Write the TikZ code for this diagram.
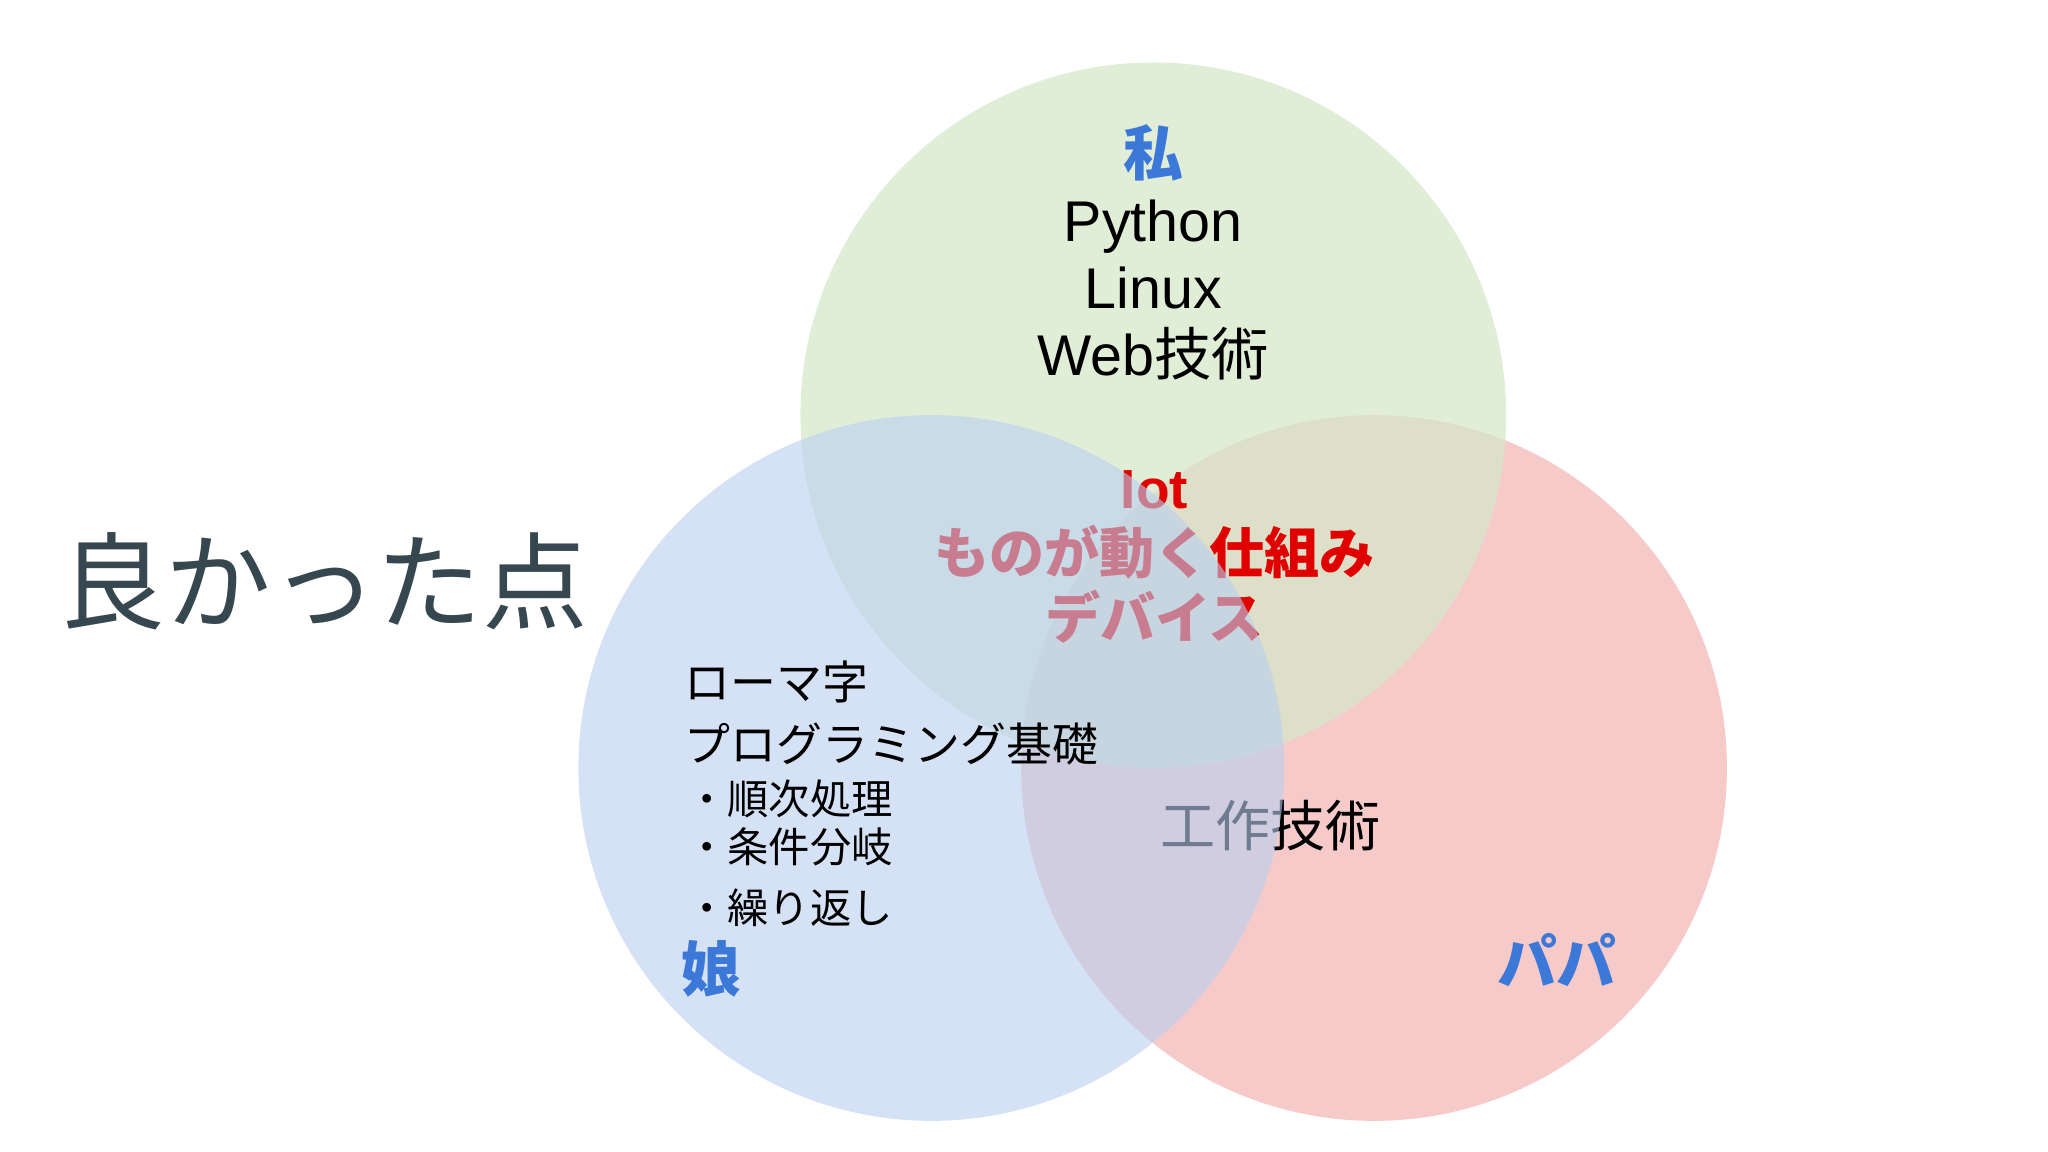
\documentclass[tikz,border=0pt]{standalone}
\usepackage{fontspec}
\newfontfamily\jp{Noto Sans CJK JP}
\setmainfont{Liberation Sans}
\definecolor{mygreen}{HTML}{D3E8C8}
\definecolor{myblue}{HTML}{B9CFF0}
\definecolor{myred}{HTML}{F5BDBD}
\definecolor{labelblue}{HTML}{3C78D8}
\definecolor{titlegrey}{HTML}{37474F}
\definecolor{iotred}{HTML}{E00000}
\begin{document}
\begin{tikzpicture}[x=0.01cm,y=-0.01cm,
  setstyle/.style={circle, minimum size=5.4cm, inner sep=0pt},
  owner/.style={labelblue, font=\jp\bfseries\fontsize{13}{15}\selectfont},
  itemstyle/.style={black, align=center, font=\fontsize{12.5}{14.5}\selectfont},
  listtext/.style={black, anchor=west, font=\jp\fontsize{10}{12}\selectfont},
  bullettext/.style={black, anchor=west, font=\jp\fontsize{9}{11}\selectfont}]
  \useasboundingbox (0,0) rectangle (1568,882);
  \fill[white] (0,0) rectangle (1568,882);
  \node [setstyle, fill=myred, fill opacity=0.8] (Papa) at (1052,588) {};
  \node [setstyle, fill=mygreen, fill opacity=0.7] (Me) at (883,318) {};
  % shared texts, under the blue set
  \node [iotred, font=\bfseries\fontsize{12}{14}\selectfont] (Iot) at (884,375) {Iot};
  \node [iotred, font=\jp\bfseries\fontsize{12}{14}\selectfont] (Mech) at (884,423) {ものが動く仕組み};
  \node [iotred, font=\jp\bfseries\fontsize{12}{14}\selectfont] (Device) at (884,472) {デバイス};
  \node [black, font=\jp\fontsize{12}{14}\selectfont] (Craft) at (973,632) {工作技術};
  \node [setstyle, fill=myblue, fill opacity=0.6] (Daughter) at (713,588) {};

  \node [titlegrey, font=\jp\fontsize{23}{26}\selectfont] (Title) at (248,445) {良かった点};
  \node [owner] (MeLabel) at (883,117) {私};
  \node [itemstyle] (MeItems) at (883,222) {Python\\Linux\\{Web\jp 技術}};
  \node [owner] (DaughterLabel) at (545,742) {娘};
  \node [owner] (PapaLabel) at (1192,735) {パパ};
  \node [listtext] (Roma) at (512,522) {ローマ字};
  \node [listtext] (Prog) at (512,570) {プログラミング基礎};
  \node [bullettext] (Seq) at (513,612) {・順次処理};
  \node [bullettext] (Cond) at (513,648) {・条件分岐};
  \node [bullettext] (Loop) at (513,695) {・繰り返し};
\end{tikzpicture}
\end{document}
